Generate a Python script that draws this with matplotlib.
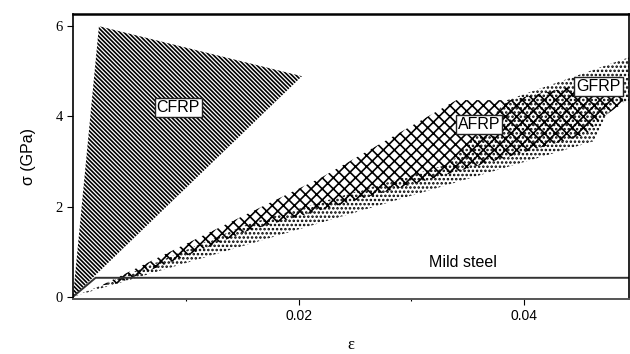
import matplotlib
matplotlib.use('Agg')
import matplotlib.pyplot as plt
from matplotlib.patches import Polygon

# ---------------- data (strain, stress GPa) ----------------
cfrp_eps = [0.0, 0.0023, 0.0203]
cfrp_sig = [0.0, 6.0, 4.89]

gfrp_eps = [0.0, 0.0462, 0.0472, 0.0480, 0.0493, 0.0493, 0.0385, 0.0334, 0.0156, 0.003]
gfrp_sig = [0.0, 3.45, 4.0, 4.3, 4.3, 5.31, 4.36, 2.95, 1.62, 0.3]

afrp_eps = [0.0025, 0.022, 0.034, 0.0388, 0.0485, 0.0488, 0.0468, 0.0455, 0.0334, 0.0156, 0.004]
afrp_sig = [0.25, 2.64, 4.36, 4.36, 4.9, 4.3, 3.95, 3.6, 2.73, 1.47, 0.3]

steel_eps = [0.0, 0.002, 0.0493]
steel_sig = [0.0, 0.42, 0.42]

labels = ['CFRP', 'AFRP', 'GFRP']
label_eps = [0.00933, 0.0360, 0.0466]
label_sig = [4.2, 3.82, 4.67]

xticks = [0.02, 0.04]
xticks_minor = [0.01, 0.03]
yticks = [0, 2, 4, 6]


def driver():
    plt.rcParams['hatch.linewidth'] = 1.2
    fig = plt.figure(figsize=(6.3, 3.54), dpi=100)
    ax = fig.add_axes([0.1159, 0.1554, 0.8825, 0.8051])

    # hatched regions
    ax.add_patch(Polygon(list(zip(gfrp_eps, gfrp_sig)), closed=True,
                         facecolor='none', edgecolor='black', linewidth=0,
                         hatch='....'))
    ax.add_patch(Polygon(list(zip(afrp_eps, afrp_sig)), closed=True,
                         facecolor='none', edgecolor='black', linewidth=0,
                         hatch='xxx'))
    ax.add_patch(Polygon(list(zip(cfrp_eps, cfrp_sig)), closed=True,
                         facecolor='none', edgecolor='black', linewidth=0,
                         hatch='\\' * 8))

    # mild steel
    ax.plot(steel_eps, steel_sig, color='#333333', lw=1.4)
    ax.text(0.0346, 0.76, 'Mild steel', ha='center', va='center',
            fontsize=11.5, family='Liberation Sans')

    for lab, x, y in zip(labels, label_eps, label_sig):
        ax.text(x, y, lab, ha='center', va='center', fontsize=11.5,
                family='Liberation Sans',
                bbox=dict(boxstyle='square,pad=0.12', fc='white', ec='#222222', lw=1.0))

    ax.set_xlim(0, 0.0493)
    ax.set_ylim(-0.05, 6.27)
    ax.set_xticks(xticks)
    ax.set_xticklabels(['0.02', '0.04'], family='Liberation Sans', fontsize=10)
    ax.set_xticks(xticks_minor, minor=True)
    ax.set_yticks(yticks)
    ax.set_yticklabels([str(t) for t in yticks], family='Liberation Serif', fontsize=10.5)
    ax.tick_params(axis='both', which='major', direction='out', length=4.5, width=0.8, pad=3)
    ax.tick_params(axis='x', which='minor', direction='out', length=1.5, width=0.8)

    for s in ['left', 'right']:
        ax.spines[s].set_linewidth(1.2)
    ax.spines['top'].set_linewidth(1.8)
    ax.spines['bottom'].set_linewidth(1.4)
    ax.spines['bottom'].set_color('#555555')

    ax.set_ylabel('σ (GPa)', family='Liberation Sans', fontsize=11.5, labelpad=14)
    ax.set_xlabel('ε', family='Liberation Serif', fontsize=12, labelpad=10)

    fig.savefig('out.png', dpi=100)


if __name__ == '__main__':
    driver()
